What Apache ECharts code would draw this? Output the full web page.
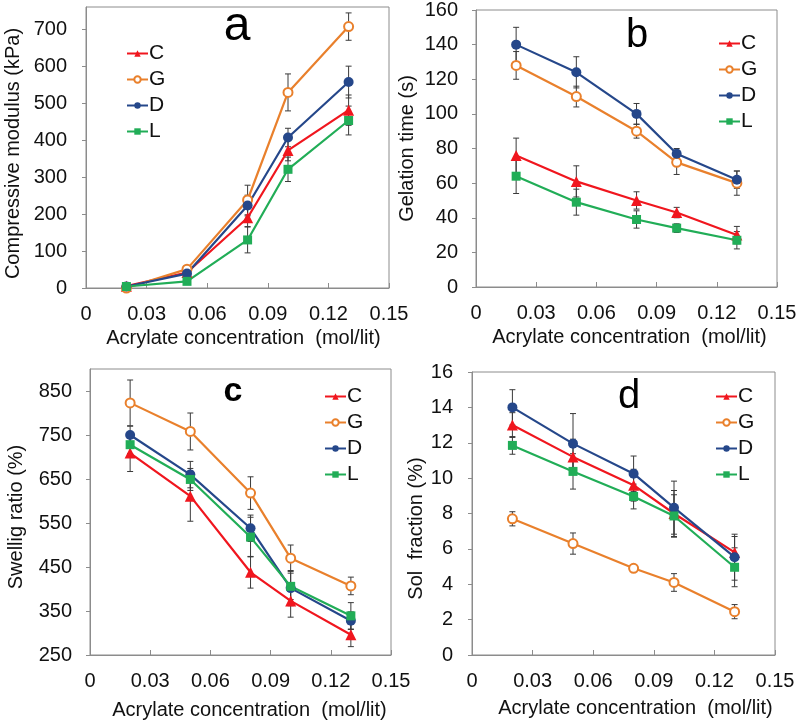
<!DOCTYPE html>
<html><head><meta charset="utf-8">
<script src="https://cdn.jsdelivr.net/npm/echarts/dist/echarts.min.js"></script>
<style>html,body{margin:0;padding:0;background:#fff}#c{width:800px;height:725px}</style>
</head><body><div id="c"></div>
<script>
// ---------- data ----------
const concentrations = [0.02, 0.05, 0.08, 0.10, 0.13];
const seriesNames = ['C', 'G', 'D', 'L'];
const xTicks = [0, 0.03, 0.06, 0.09, 0.12, 0.15];

// (a) Compressive modulus (kPa)
const modulusC = [5, 42, 190, 372, 481];
const modulusG = [0, 51, 238, 529, 707];
const modulusD = [4, 39, 223, 407, 557];
const modulusL = [4, 18, 130, 321, 453];
const modulusErrC = [3, 6, 24, 28, 41];
const modulusErrG = [3, 6, 40, 50, 37];
const modulusErrD = [3, 6, 28, 25, 43];
const modulusErrL = [3, 5, 35, 33, 39];
const modulusTicks = [0, 100, 200, 300, 400, 500, 600, 700];

// (b) Gelation time (s)
const gelC = [76, 61, 50, 43, 30];
const gelG = [128, 110, 90, 72, 60];
const gelD = [140, 124, 100, 77, 62];
const gelL = [64, 49, 39, 34, 27];
const gelErrC = [10, 9, 5, 3, 5];
const gelErrG = [8, 6, 4, 7, 7];
const gelErrD = [10, 9, 6, 3, 5];
const gelErrL = [10, 7.5, 5, 2.5, 5];
const gelTicks = [0, 20, 40, 60, 80, 100, 120, 140, 160];

// (c) Swelling ratio (%)
const swellC = [709, 611, 438, 373, 296];
const swellG = [823, 758, 618, 470, 407];
const swellD = [750, 660, 538, 402, 328];
const swellL = [728, 649, 518, 406, 339];
const swellErrC = [42, 57, 36, 37, 27];
const swellErrG = [52, 42, 37, 30, 20];
const swellErrD = [20, 30, 30, 40, 20];
const swellErrL = [20, 25, 45, 30, 30];
const swellTicks = [250, 350, 450, 550, 650, 750, 850];

// (d) Sol fraction (%)
const solC = [13.0, 11.2, 9.6, 8.0, 5.8];
const solG = [7.7, 6.3, 4.9, 4.1, 2.45];
const solD = [14.0, 11.95, 10.25, 8.33, 5.53];
const solL = [11.85, 10.38, 8.96, 7.86, 4.96];
const solErrC = [0.7, 1.0, 0.9, 1.3, 0.9];
const solErrG = [0.4, 0.6, 0.1, 0.5, 0.4];
const solErrD = [1.0, 1.7, 1.0, 1.5, 1.3];
const solErrL = [0.5, 1.0, 0.7, 1.2, 1.1];
const solTicks = [0, 2, 4, 6, 8, 10, 12, 14, 16];

const xTitle = 'Acrylate concentration  (mol/lit)';
const panelLetters = ['a', 'b', 'c', 'd'];

// ---------- styling ----------
const colors = { C: '#f0161e', G: '#e9802c', D: '#25478a', L: '#21ad57' };
const symbols = { C: 'triangle', G: 'emptyCircle', D: 'circle', L: 'rect' };
const symSizes = { C: 11, G: 9, D: 10, L: 9 };
const FONT = 'Liberation Sans, Arial, sans-serif';
const TXT = '#111';

const panels = [
  { vals: [modulusC, modulusG, modulusD, modulusL], errs: [modulusErrC, modulusErrG, modulusErrD, modulusErrL],
    yName: 'Compressive modulus (kPa)', yMin: 0, yMax: 760, yTicks: modulusTicks, yMargin: 19,
    grid: { left: 86, top: 7, width: 303, height: 281 }, yGap: 63, yPad: [0, 12, 0, 0], xGap: 40, xPad: [0, 0, 0, 12],
    legend: { left: 121, top: 38 } },
  { vals: [gelC, gelG, gelD, gelL], errs: [gelErrC, gelErrG, gelErrD, gelErrL],
    yName: 'Gelation time (s)', yMin: 0, yMax: 160, yTicks: gelTicks, yMargin: 18,
    grid: { left: 476, top: 7, width: 301, height: 280 }, yGap: 59, yPad: [0, 0, 0, 0], xGap: 40, xPad: [0, 0, 0, 6],
    legend: { left: 713, top: 28 } },
  { vals: [swellC, swellG, swellD, swellL], errs: [swellErrC, swellErrG, swellErrD, swellErrL],
    yName: 'Swellig ratio (%)', yMin: 250, yMax: 900, yTicks: swellTicks, yMargin: 18,
    grid: { left: 90, top: 369, width: 301, height: 286 }, yGap: 64, yPad: [0, 10, 0, 0], xGap: 45, xPad: [0, 0, 0, 18],
    legend: { left: 319, top: 381 } },
  { vals: [solC, solG, solD, solL], errs: [solErrC, solErrG, solErrD, solErrL],
    yName: 'Sol  fraction (%)', yMin: 0, yMax: 16, yTicks: solTicks, yMargin: 19,
    grid: { left: 472, top: 372, width: 303, height: 283 }, yGap: 44, yPad: [0, 30, 0, 0], xGap: 43, xPad: [0, 0, 0, 24],
    legend: { left: 710, top: 381 } }
];

function renderErr(params, api) {
  const x = api.value(0), y = api.value(1), e = api.value(2);
  const top = api.coord([x, y + e]);
  const bot = api.coord([x, y - e]);
  const hw = 3;
  const style = { stroke: '#3a3a3a', lineWidth: 1 };
  return {
    type: 'group',
    children: [
      { type: 'line', shape: { x1: top[0], y1: top[1], x2: bot[0], y2: bot[1] }, style },
      { type: 'line', shape: { x1: top[0] - hw, y1: top[1], x2: top[0] + hw, y2: top[1] }, style },
      { type: 'line', shape: { x1: bot[0] - hw, y1: bot[1], x2: bot[0] + hw, y2: bot[1] }, style }
    ]
  };
}

const option = {
  animation: false,
  backgroundColor: '#fff',
  textStyle: { fontFamily: FONT },
  grid: [], xAxis: [], yAxis: [], series: [], legend: [], graphic: []
};

panels.forEach((p, i) => {
  option.grid.push(Object.assign({ show: true, borderColor: '#8c8c8c', borderWidth: 1, backgroundColor: '#fff' }, p.grid));
  option.xAxis.push({
    type: 'value', gridIndex: i, min: 0, max: 0.15, interval: 0.03,
    name: xTitle, nameLocation: 'middle', nameGap: p.xGap,
    nameTextStyle: { fontSize: 20, color: TXT, fontFamily: FONT, padding: p.xPad },
    axisLine: { show: true, onZero: false, lineStyle: { color: '#8c8c8c', width: 1 } },
    axisTick: { show: true, inside: true, length: 5, lineStyle: { color: '#8c8c8c' }, customValues: xTicks },
    axisLabel: { fontSize: 20, color: TXT, margin: 16, fontFamily: FONT, customValues: xTicks,
      formatter: v => (v === 0 ? '0' : String(+v.toFixed(2))) },
    splitLine: { show: false }
  });
  option.yAxis.push({
    type: 'value', gridIndex: i, min: p.yMin, max: p.yMax,
    name: p.yName, nameLocation: 'middle', nameGap: p.yGap,
    nameTextStyle: { fontSize: 20, color: TXT, fontFamily: FONT, padding: p.yPad },
    axisLine: { show: true, lineStyle: { color: '#8c8c8c', width: 1 } },
    axisTick: { show: true, inside: false, length: 4, lineStyle: { color: '#8c8c8c' }, customValues: p.yTicks },
    axisLabel: { fontSize: 20, color: TXT, margin: p.yMargin, fontFamily: FONT, customValues: p.yTicks },
    splitLine: { show: false }
  });
  seriesNames.forEach((n, k) => {
    option.series.push({
      type: 'custom', name: n + ' err', xAxisIndex: i, yAxisIndex: i,
      renderItem: renderErr, encode: { x: 0, y: 1 }, z: 1, silent: true,
      data: concentrations.map((c, j) => [c, p.vals[k][j], p.errs[k][j]])
    });
  });
  seriesNames.forEach((n, k) => {
    option.series.push({
      type: 'line', name: n, xAxisIndex: i, yAxisIndex: i, z: 3,
      data: concentrations.map((c, j) => [c, p.vals[k][j]]),
      symbol: symbols[n], symbolSize: symSizes[n], showSymbol: true, clip: false,
      color: colors[n],
      lineStyle: { color: colors[n], width: 2.2 },
      itemStyle: n === 'G' ? { color: colors[n], borderColor: colors[n], borderWidth: 1.6 } : { color: colors[n] }
    });
  });
  option.legend.push({
    orient: 'vertical', left: p.legend.left, top: p.legend.top,
    data: seriesNames, itemWidth: 21, itemHeight: 8, itemGap: 5,
    textStyle: { fontSize: 21, color: TXT, fontFamily: FONT, lineHeight: 20, padding: [0, 0, 0, -4] },
    selectedMode: false
  });
});

option.graphic = [
  { type: 'text', style: { text: panelLetters[0], x: 237, y: 27, fill: '#000', font: '48px ' + FONT, textAlign: 'center', textVerticalAlign: 'middle' } },
  { type: 'text', style: { text: panelLetters[1], x: 637, y: 36, fill: '#000', font: '40px ' + FONT, textAlign: 'center', textVerticalAlign: 'middle' } },
  { type: 'text', style: { text: panelLetters[2], x: 233, y: 392, fill: '#000', font: 'bold 34px ' + FONT, textAlign: 'center', textVerticalAlign: 'middle' } },
  { type: 'text', style: { text: panelLetters[3], x: 629, y: 397, fill: '#000', font: '40px ' + FONT, textAlign: 'center', textVerticalAlign: 'middle' } }
];

const chart = echarts.init(document.getElementById('c'), null, { renderer: 'canvas' });
chart.setOption(option);
</script>
</body></html>
